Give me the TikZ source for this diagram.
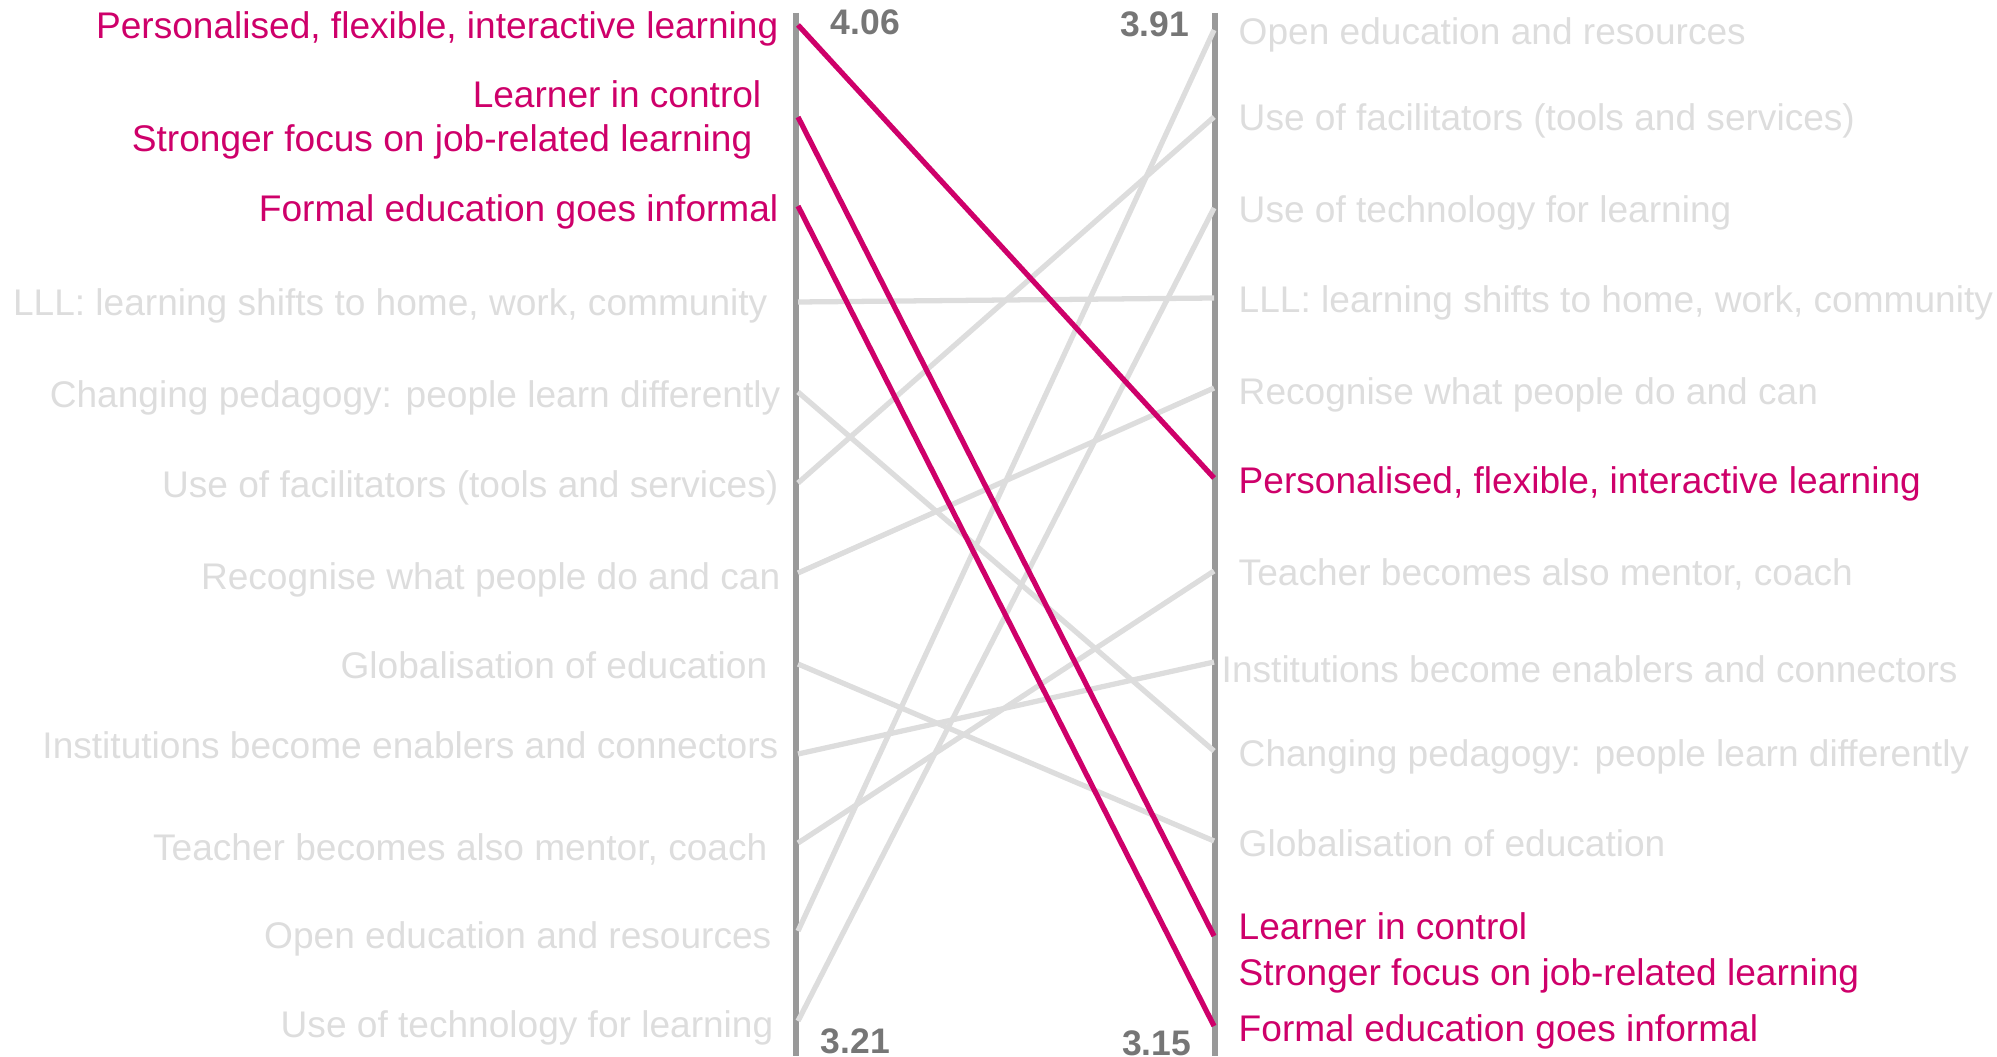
\documentclass[tikz,border=0pt]{standalone}
\usepackage{fontspec}
\setmainfont{Liberation Sans}
\definecolor{hilite}{RGB}{206,0,106}
\definecolor{faint}{RGB}{221,221,221}
\definecolor{axisgray}{RGB}{153,153,153}
\definecolor{valgray}{RGB}{118,118,118}
\tikzset{
	lbl/.style={inner sep=0pt, font=\fontsize{10.55}{12}\selectfont, yshift=-3.8pt},
	leftlbl/.style={lbl, anchor=base east},
	rightlbl/.style={lbl, anchor=base west},
	val/.style={inner sep=0pt, text=valgray, font=\fontsize{10.1}{12}\selectfont\bfseries},
	fadedlink/.style={faint, line width=1.5pt},
	toplink/.style={hilite, line width=1.5pt},
	axisline/.style={axisgray, line width=1.7pt}
}

\begin{document}
\begin{tikzpicture}[x=0.1mm,y=-0.1mm]
			%%%%% START %%%%%
			\useasboundingbox (0,0) rectangle (1997,1056);
			
			\coordinate (lTop) at (796,13);
			\coordinate (lBot) at (796,1056);
			\coordinate (rTop) at (1215,13);
			\coordinate (rBot) at (1215,1056);
			\draw[axisline] (lTop) -- (lBot);
			\draw[axisline] (rTop) -- (rBot);
			
			% left end points
			\coordinate (lPers) at (798,25);
			\coordinate (lLearn) at (798,117);
			\coordinate (lFormal) at (798,206);
			\coordinate (lLLL) at (798,302);
			\coordinate (lPeda) at (798,392);
			\coordinate (lFacil) at (798,483);
			\coordinate (lRecog) at (798,573);
			\coordinate (lGlob) at (798,664);
			\coordinate (lInst) at (798,754);
			\coordinate (lTeach) at (798,843);
			\coordinate (lOpen) at (798,931);
			\coordinate (lTech) at (798,1021);
			
			% right end points
			\coordinate (rOpen) at (1214,30);
			\coordinate (rFacil) at (1214,117);
			\coordinate (rTech) at (1214,208);
			\coordinate (rLLL) at (1214,298);
			\coordinate (rRecog) at (1214,388);
			\coordinate (rPers) at (1214,478);
			\coordinate (rTeach) at (1214,571);
			\coordinate (rInst) at (1214,662);
			\coordinate (rPeda) at (1214,751);
			\coordinate (rGlob) at (1214,841);
			\coordinate (rLearn) at (1214,936);
			\coordinate (rFormal) at (1214,1026);
			
			% left labels
			\node[leftlbl, text=hilite] (tlPers) at (779,25) {Personalised, flexible, interactive learning};
			\node[leftlbl, text=hilite] (tlLearn) at (762,94) {Learner in control};
			\node[leftlbl, text=hilite] (tlJob) at (753,138) {Stronger focus on job-related learning};
			\node[leftlbl, text=hilite] (tlFormal) at (779,208) {Formal education goes informal};
			\node[leftlbl, text=faint] (tlLLL) at (768,302) {LLL: learning shifts to home, work, community};
			\node[leftlbl, text=faint] (tlPeda) at (781,394) {Changing pedagogy: people learn differently};
			\node[leftlbl, text=faint] (tlFacil) at (779,484) {Use of facilitators (tools and services)};
			\node[leftlbl, text=faint] (tlRecog) at (781,576) {Recognise what people do and can};
			\node[leftlbl, text=faint] (tlGlob) at (768,665) {Globalisation of education};
			\node[leftlbl, text=faint] (tlInst) at (779,745) {Institutions become enablers and connectors};
			\node[leftlbl, text=faint] (tlTeach) at (768,847) {Teacher becomes also mentor, coach};
			\node[leftlbl, text=faint] (tlOpen) at (772,935) {Open education and resources};
			\node[leftlbl, text=faint] (tlTech) at (774,1024) {Use of technology for learning};
			
			% right labels
			\node[rightlbl, text=faint] (trOpen) at (1238,31) {Open education and resources};
			\node[rightlbl, text=faint] (trFacil) at (1238,117) {Use of facilitators (tools and services)};
			\node[rightlbl, text=faint] (trTech) at (1238,209) {Use of technology for learning};
			\node[rightlbl, text=faint] (trLLL) at (1238,299) {LLL: learning shifts to home, work, community};
			\node[rightlbl, text=faint] (trRecog) at (1238,391) {Recognise what people do and can};
			\node[rightlbl, text=hilite] (trPers) at (1238,480) {Personalised, flexible, interactive learning};
			\node[rightlbl, text=faint] (trTeach) at (1238,572) {Teacher becomes also mentor, coach};
			\node[rightlbl, text=faint] (trInst) at (1221,669) {Institutions become enablers and connectors};
			\node[rightlbl, text=faint] (trPeda) at (1238,753) {Changing pedagogy: people learn differently};
			\node[rightlbl, text=faint] (trGlob) at (1238,843) {Globalisation of education};
			\node[rightlbl, text=hilite] (trLearn) at (1238,926) {Learner in control};
			\node[rightlbl, text=hilite] (trJob) at (1238,972) {Stronger focus on job-related learning};
			\node[rightlbl, text=hilite] (trFormal) at (1238,1028) {Formal education goes informal};
			
			% scale values
			\node[val, anchor=base west] (vlTop) at (830,35) {4.06};
			\node[val, anchor=base west] (vlBot) at (820,1053) {3.21};
			\node[val, anchor=base east] (vrTop) at (1190,37) {3.91};
			\node[val, anchor=base east] (vrBot) at (1192,1055) {3.15};
			
			% grey links first, highlighted ones on top
			\draw[fadedlink] (lLLL) -- (rLLL);
			\draw[fadedlink] (lPeda) -- (rPeda);
			\draw[fadedlink] (lFacil) -- (rFacil);
			\draw[fadedlink] (lRecog) -- (rRecog);
			\draw[fadedlink] (lGlob) -- (rGlob);
			\draw[fadedlink] (lInst) -- (rInst);
			\draw[fadedlink] (lTeach) -- (rTeach);
			\draw[fadedlink] (lOpen) -- (rOpen);
			\draw[fadedlink] (lTech) -- (rTech);
			
			\draw[toplink] (lPers) -- (rPers);
			\draw[toplink] (lLearn) -- (rLearn);
			\draw[toplink] (lFormal) -- (rFormal);
			%%%%% END %%%%%
\end{tikzpicture}
\end{document}
